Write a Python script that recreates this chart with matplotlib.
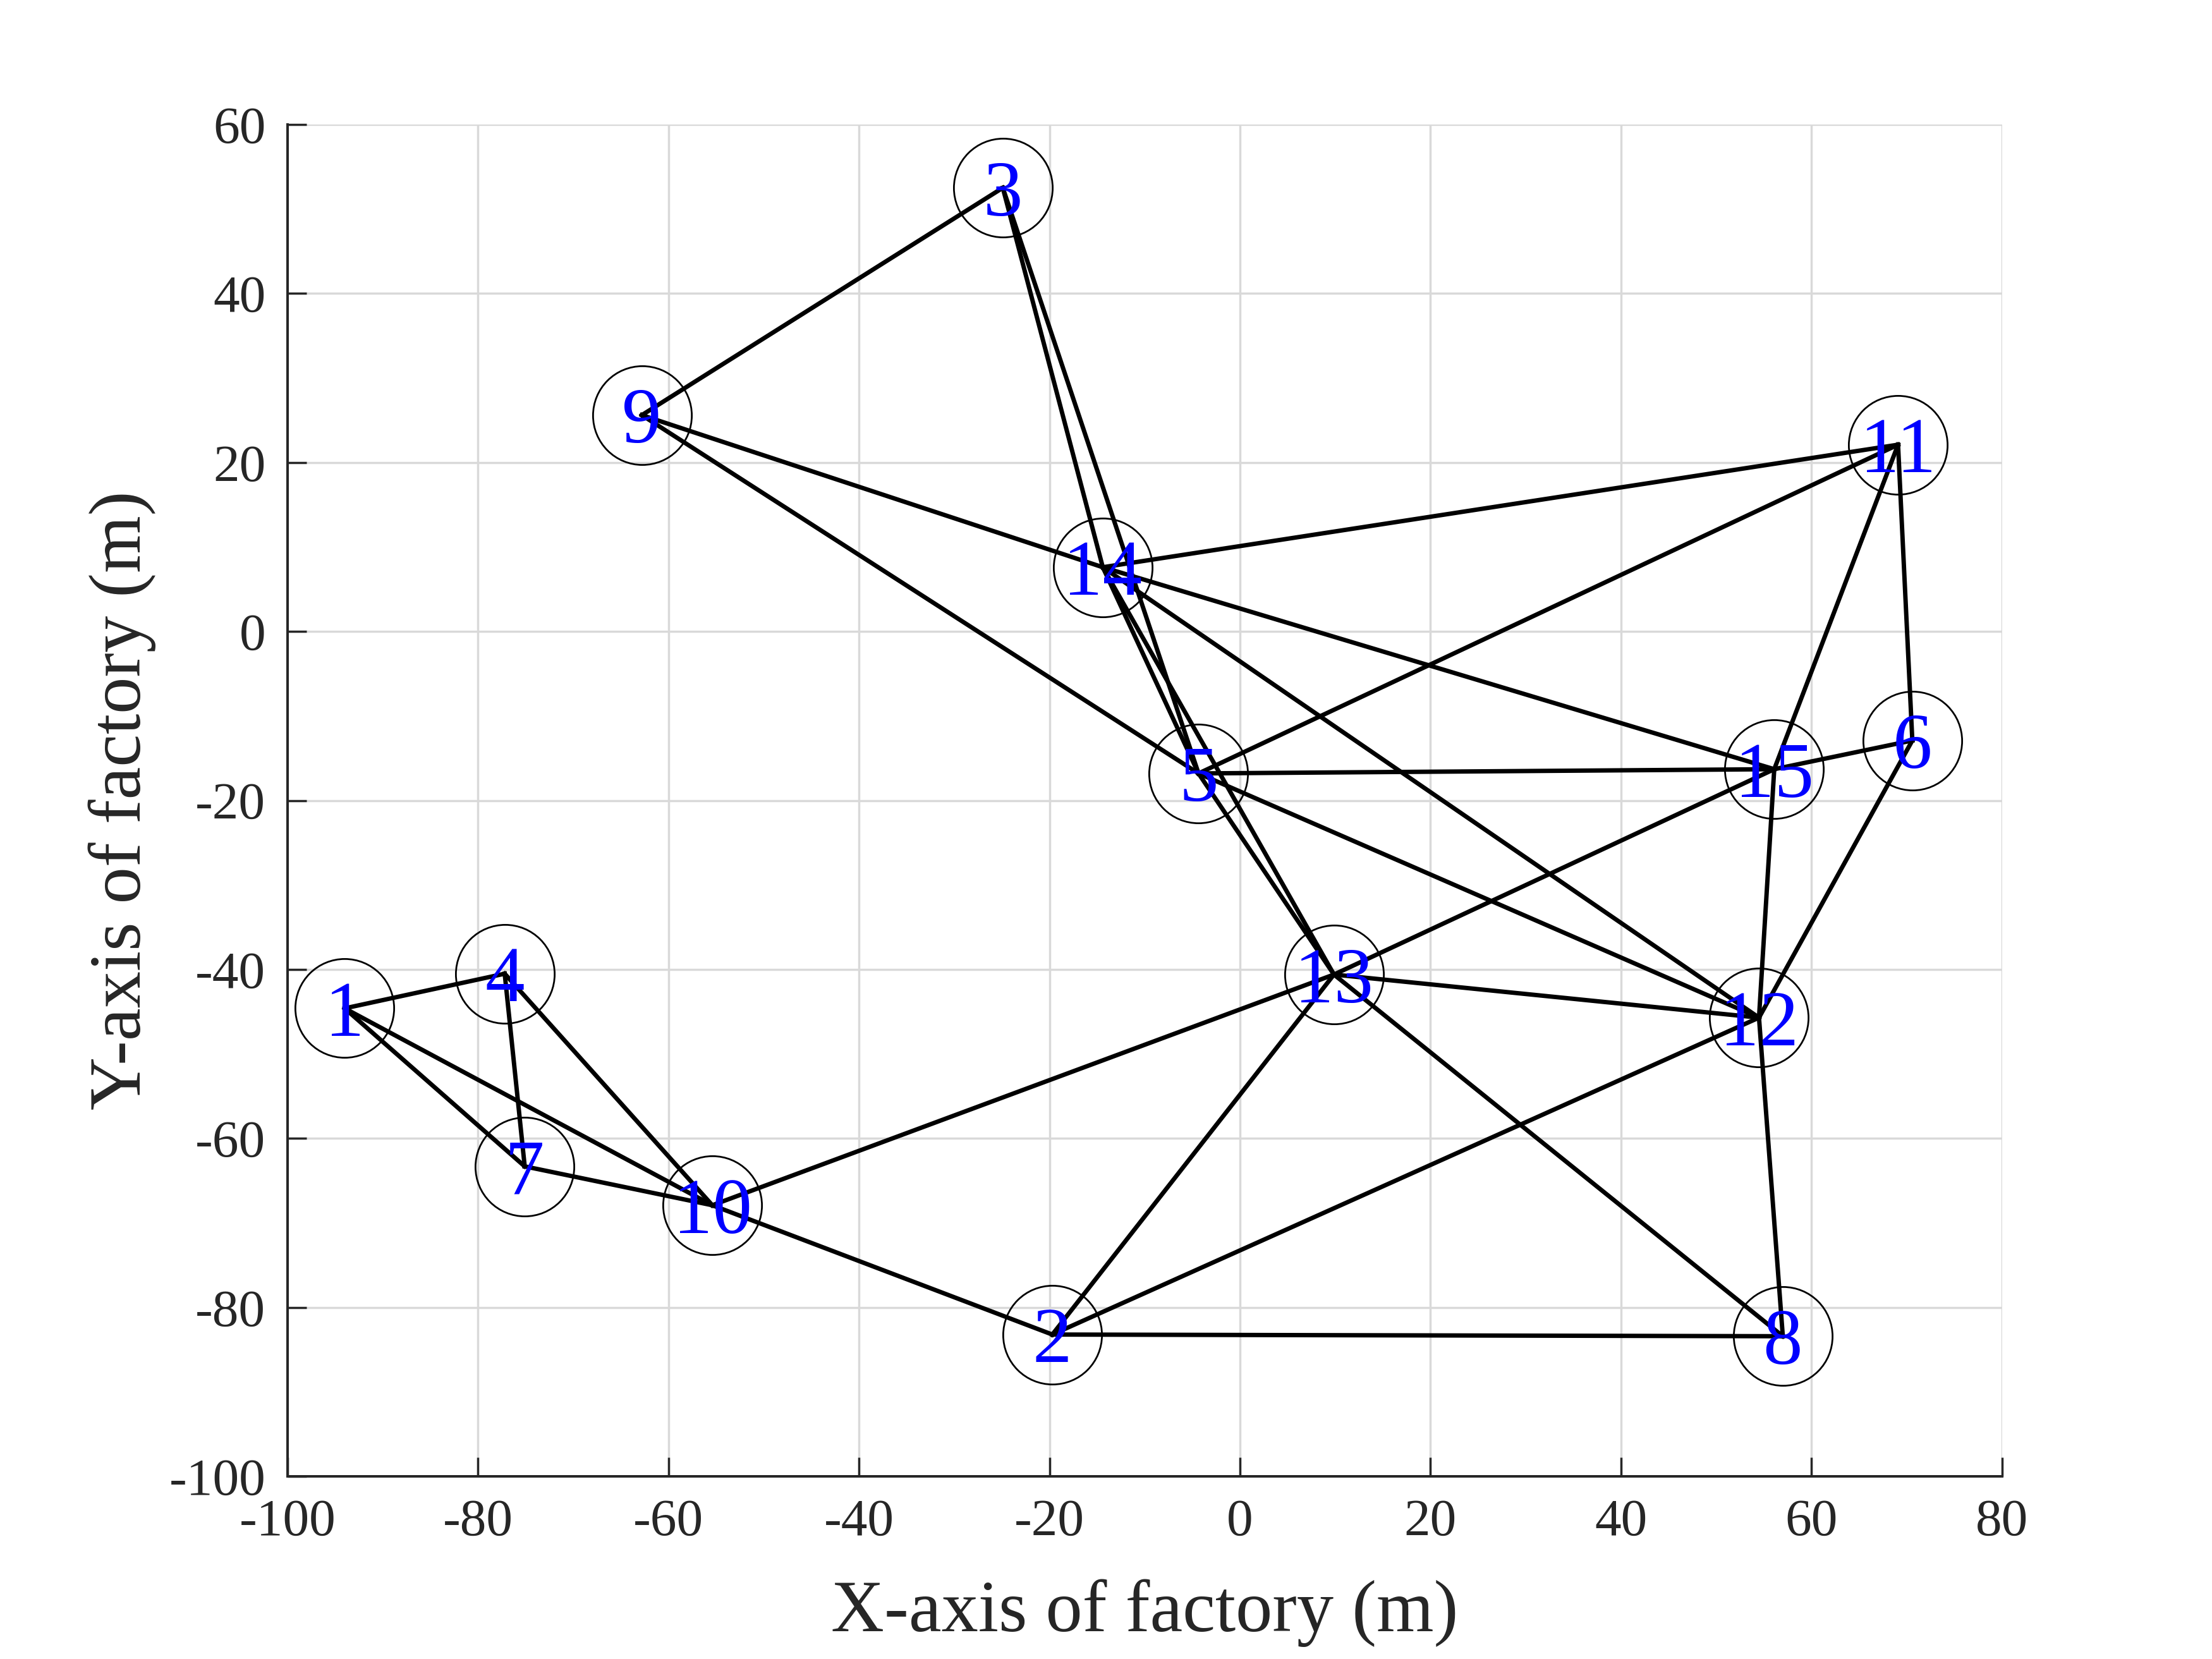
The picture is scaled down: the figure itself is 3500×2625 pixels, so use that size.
import matplotlib.pyplot as plt

# node positions (m)
node_ids = list(range(1, 16))
node_x = [-94.0, -19.7, -24.9, -77.2, -4.35, 70.6, -75.1, 57.0, -62.8, -55.4, 69.1, 54.5, 9.87, -14.4, 56.1]
node_y = [-44.6, -83.2, 52.5, -40.5, -16.8, -12.9, -63.3, -83.4, 25.6, -67.9, 22.1, -45.7, -40.6, 7.6, -16.3]

# connections between nodes
edge_from = [1, 1, 1, 4, 4, 7, 10, 10, 2, 2, 2, 13, 13, 13, 13, 13, 9, 9, 9, 3, 3, 14, 14, 14, 14, 5, 5, 5, 11, 11, 15, 15, 6, 12]
edge_to = [4, 7, 10, 7, 10, 10, 2, 13, 13, 12, 8, 8, 12, 15, 5, 14, 3, 14, 5, 14, 5, 11, 15, 12, 5, 11, 15, 12, 15, 6, 6, 12, 12, 8]

x_ticks = list(range(-100, 81, 20))
y_ticks = list(range(-100, 61, 20))

plt.rcParams['font.family'] = 'Liberation Serif'
plt.rcParams['axes.unicode_minus'] = False
dark = '#262626'

fig = plt.figure(figsize=(14, 10.5), dpi=250)
ax = fig.add_axes([0.13, 0.11, 0.775, 0.815])

for a, b in zip(edge_from, edge_to):
    ax.plot([node_x[a - 1], node_x[b - 1]], [node_y[a - 1], node_y[b - 1]],
            color='black', lw=2.0, zorder=3)

ax.plot(node_x, node_y, 'o', ms=45, mfc='none', mec='black', mew=0.8, zorder=2)

for i, x, y in zip(node_ids, node_x, node_y):
    ax.text(x, y, str(i), color='blue', fontsize=36, ha='center', va='center_baseline', zorder=4)

ax.set_xlim(-100, 80)
ax.set_ylim(-100, 60)
ax.set_xticks(x_ticks)
ax.set_yticks(y_ticks)
ax.grid(True, color='#d9d9d9', lw=1.0)
ax.set_axisbelow(True)

ax.spines['top'].set_visible(False)
ax.spines['right'].set_visible(False)
for s in ['left', 'bottom']:
    ax.spines[s].set_color(dark)
    ax.spines[s].set_linewidth(1.15)

ax.tick_params(direction='in', length=8.6, width=1.0, color=dark, labelcolor=dark,
               labelsize=24, pad=10)

ax.set_xlabel('X-axis of factory (m)', fontsize=33.5, color=dark, labelpad=15)
ax.set_ylabel('Y-axis of factory (m)', fontsize=33.5, color=dark, labelpad=6)

fig.savefig('out.png', dpi=250)
